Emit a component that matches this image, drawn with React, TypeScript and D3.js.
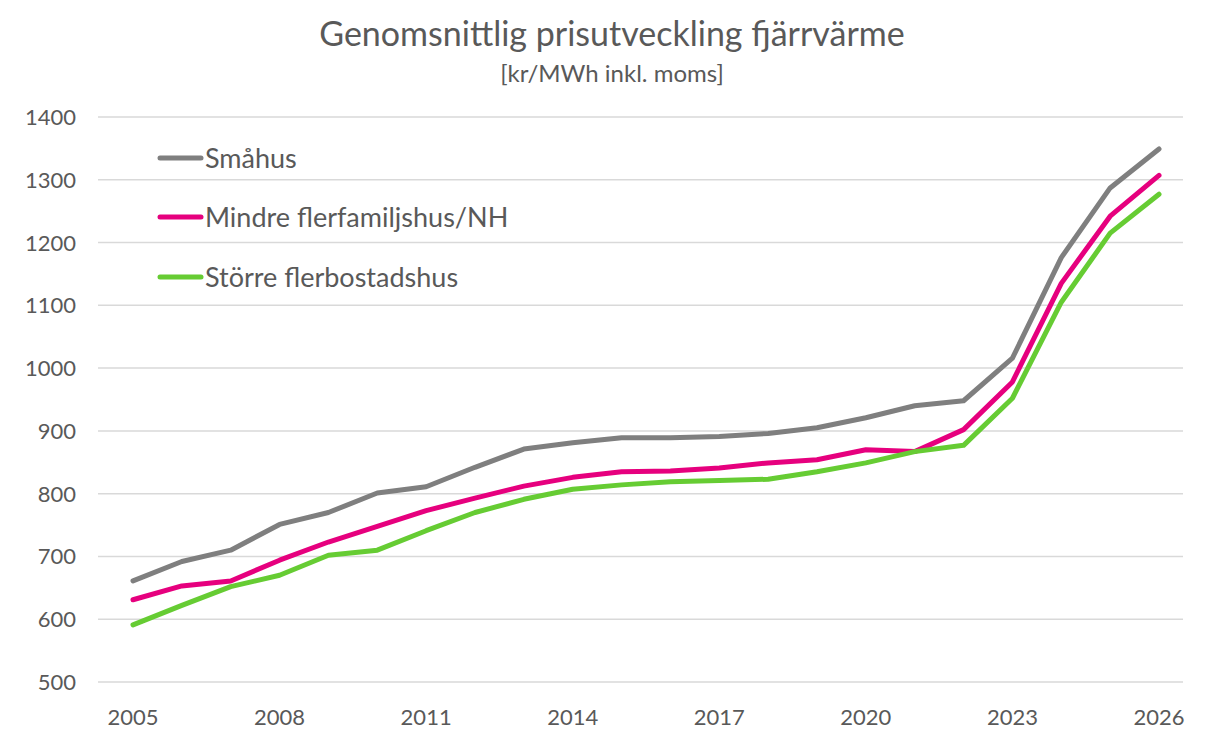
import { useEffect, useRef } from "react";
import * as d3 from "d3";

const years = [
  2005, 2006, 2007, 2008, 2009, 2010, 2011, 2012, 2013, 2014, 2015,
  2016, 2017, 2018, 2019, 2020, 2021, 2022, 2023, 2024, 2025, 2026,
];

const smahus = [
  661, 692, 710, 751, 770, 801, 811, 842, 871, 881, 889,
  889, 891, 896, 905, 921, 940, 948, 1016, 1176, 1287, 1349,
];

const mindre = [
  631, 653, 661, 694, 723, 748, 773, 793, 812, 826, 835,
  836, 841, 849, 854, 870, 867, 902, 978, 1135, 1242, 1307,
];

const storre = [
  591, 622, 652, 670, 702, 710, 741, 770, 791, 807, 814,
  819, 821, 823, 835, 849, 867, 877, 952, 1105, 1215, 1277,
];

const seriesNames = ["Småhus", "Mindre flerfamiljshus/NH", "Större flerbostadshus"];
const seriesColors = ["#7f7f7f", "#e6007e", "#66cc33"];

const yTicks = [500, 600, 700, 800, 900, 1000, 1100, 1200, 1300, 1400];
const xTicks = [2005, 2008, 2011, 2014, 2017, 2020, 2023, 2026];

const W = 1223;
const H = 740;
const FONT = "Lato, 'Open Sans', sans-serif";
const TEXT = "#595959";

export default function App() {
  const svgRef = useRef<SVGSVGElement | null>(null);

  useEffect(() => {
    if (!svgRef.current) return;
    const svg = d3.select(svgRef.current);
    svg.selectAll("*").remove();

    const x = d3.scaleLinear().domain([2005, 2026]).range([133, 1159]);
    const y = d3.scaleLinear().domain([500, 1400]).range([682, 117]);

    // title
    svg
      .append("text")
      .attr("x", 612)
      .attr("y", 46)
      .attr("text-anchor", "middle")
      .attr("font-family", FONT)
      .attr("font-size", 34)
      .attr("fill", TEXT)
      .text("Genomsnittlig prisutveckling fjärrvärme");

    svg
      .append("text")
      .attr("x", 612)
      .attr("y", 82)
      .attr("text-anchor", "middle")
      .attr("font-family", FONT)
      .attr("font-size", 24)
      .attr("fill", TEXT)
      .text("[kr/MWh inkl. moms]");

    // gridlines
    svg
      .append("g")
      .selectAll("line")
      .data(yTicks)
      .join("line")
      .attr("x1", 98)
      .attr("x2", 1183)
      .attr("y1", (d) => y(d))
      .attr("y2", (d) => y(d))
      .attr("stroke", "#d9d9d9")
      .attr("stroke-width", 1.5);

    // y labels
    svg
      .append("g")
      .selectAll("text")
      .data(yTicks)
      .join("text")
      .attr("x", 76)
      .attr("y", (d) => y(d) + 8)
      .attr("text-anchor", "end")
      .attr("font-family", FONT)
      .attr("font-size", 22)
      .attr("fill", TEXT)
      .text((d) => d);

    // x labels
    svg
      .append("g")
      .selectAll("text")
      .data(xTicks)
      .join("text")
      .attr("x", (d) => x(d))
      .attr("y", 725)
      .attr("text-anchor", "middle")
      .attr("font-family", FONT)
      .attr("font-size", 22)
      .attr("fill", TEXT)
      .text((d) => d);

    // lines
    const all = [smahus, mindre, storre];
    const line = d3
      .line<number>()
      .x((_, i) => x(years[i]))
      .y((d) => y(d));

    svg
      .append("g")
      .selectAll("path")
      .data(all)
      .join("path")
      .attr("d", (d) => line(d))
      .attr("fill", "none")
      .attr("stroke", (_, i) => seriesColors[i])
      .attr("stroke-width", 5)
      .attr("stroke-linejoin", "round")
      .attr("stroke-linecap", "round");

    // legend
    const legendY = [158, 217, 277];
    const lg = svg
      .append("g")
      .selectAll("g")
      .data(seriesNames)
      .join("g")
      .attr("transform", (_, i) => `translate(0,${legendY[i]})`);

    lg.append("line")
      .attr("x1", 160)
      .attr("x2", 201)
      .attr("stroke", (_, i) => seriesColors[i])
      .attr("stroke-width", 5)
      .attr("stroke-linecap", "round");

    lg.append("text")
      .attr("x", 205)
      .attr("y", 10)
      .attr("font-family", FONT)
      .attr("font-size", 27)
      .attr("fill", TEXT)
      .text((d) => d);
  }, []);

  return <svg ref={svgRef} width={W} height={H} style={{ display: "block", margin: -8 }} />;
}
